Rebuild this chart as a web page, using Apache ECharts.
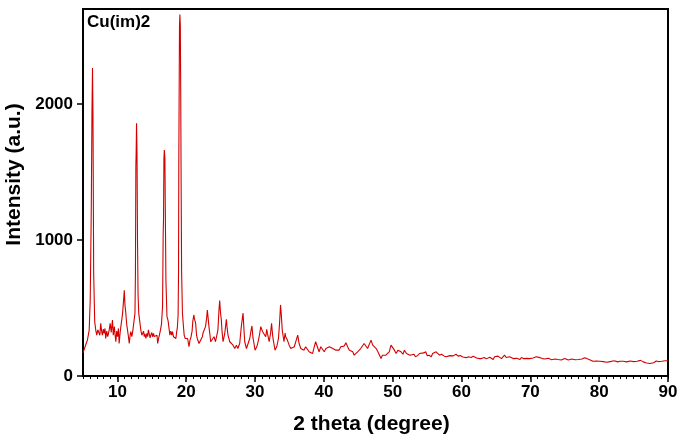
<!DOCTYPE html>
<html>
<head>
<meta charset="utf-8">
<script src="https://cdn.jsdelivr.net/npm/echarts@6/dist/echarts.min.js"></script>
<style>
html, body { margin: 0; padding: 0; background: #fff; }
#box { width: 685px; height: 439px; }
</style>
</head>
<body>
<div id="box"></div>
<script>
// values
const twoTheta = [
  5.0, 5.2, 5.4, 5.64, 5.9, 6.05, 6.2, 6.3, 6.38, 6.45, 6.55, 6.7, 6.85, 7.0, 7.15, 7.34, 7.45, 7.58, 7.7, 7.82,
  7.95, 8.07, 8.2, 8.3, 8.45, 8.6, 8.8, 8.95, 9.1, 9.28, 9.4, 9.55, 9.65, 9.77, 9.9, 10.02, 10.15, 10.25, 10.4, 10.5,
  10.65, 10.75, 10.9, 11.0, 11.1, 11.2, 11.35, 11.47, 11.6, 11.72, 11.85, 11.95, 12.1, 12.25, 12.4, 12.55, 12.62, 12.68, 12.72, 12.78,
  12.85, 12.92, 13.0, 13.1, 13.25, 13.4, 13.55, 13.65, 13.8, 13.9, 14.0, 14.14, 14.28, 14.4, 14.5, 14.62, 14.75, 14.85, 15.0, 15.1,
  15.25, 15.35, 15.5, 15.6, 15.75, 15.85, 16.0, 16.1, 16.25, 16.4, 16.56, 16.65, 16.7, 16.76, 16.82, 16.9, 16.98, 17.05, 17.2, 17.3,
  17.38, 17.5, 17.62, 17.75, 17.9, 18.0, 18.15, 18.3, 18.5, 18.62, 18.7, 18.82, 18.88, 18.92, 18.97, 19.02, 19.08, 19.14, 19.2, 19.26,
  19.33, 19.45, 19.6, 19.7, 19.85, 20.0, 20.2, 20.4, 20.55, 20.7, 20.85, 20.95, 21.1, 21.2, 21.37, 21.5, 21.6, 21.85, 22.1, 22.34,
  22.45, 22.55, 22.7, 22.8, 22.95, 23.07, 23.2, 23.3, 23.45, 23.55, 23.8, 24.04, 24.25, 24.45, 24.6, 24.75, 24.86, 24.97, 25.1, 25.2,
  25.35, 25.6, 25.83, 25.95, 26.07, 26.32, 26.55, 26.8, 27.05, 27.3, 27.5, 27.77, 28.0, 28.15, 28.26, 28.4, 28.5, 28.75, 29.0, 29.23,
  29.4, 29.55, 29.7, 29.8, 30.0, 30.25, 30.5, 30.7, 30.83, 30.97, 31.1, 31.3, 31.55, 31.7, 31.8, 32.05, 32.25, 32.4, 32.55, 32.65,
  32.9, 33.15, 33.4, 33.55, 33.7, 33.8, 33.95, 34.2, 34.37, 34.45, 34.7, 34.95, 35.2, 35.4, 35.7, 35.95, 36.2, 36.4, 36.65, 36.85,
  37.1, 37.35, 37.6, 37.85, 38.1, 38.35, 38.6, 38.8, 39.05, 39.3, 39.55, 39.8, 40.05, 40.3, 40.55, 40.8, 41.05, 41.3, 41.5, 41.75,
  42.0, 42.2, 42.45, 42.7, 42.95, 43.2, 43.45, 43.7, 43.95, 44.2, 44.4, 44.65, 44.9, 45.1, 45.35, 45.6, 45.85, 46.1, 46.35, 46.6,
  46.85, 47.1, 47.35, 47.6, 47.85, 48.05, 48.3, 48.5, 48.75, 49.0, 49.25, 49.5, 49.75, 50.0, 50.25, 50.5, 50.75, 51.0, 51.2, 51.5,
  51.7, 52.0, 52.2, 52.5, 52.7, 53.1, 53.3, 53.6, 53.9, 54.1, 54.5, 54.8, 55.0, 55.3, 55.6, 55.8, 56.0, 56.3, 56.5, 56.8,
  57.1, 57.5, 57.8, 58.0, 58.3, 58.5, 58.8, 59.0, 59.2, 59.5, 59.8, 60.0, 60.2, 60.4, 60.7, 61.0, 61.4, 61.7, 61.9, 62.2,
  62.4, 62.6, 62.9, 63.1, 63.3, 63.6, 63.8, 64.1, 64.3, 64.6, 64.8, 65.0, 65.3, 65.5, 65.8, 66.0, 66.25, 66.5, 66.7, 67.0,
  67.2, 67.5, 67.7, 68.0, 68.2, 68.5, 68.7, 69.0, 69.2, 69.5, 69.7, 69.9, 70.1, 70.4, 70.6, 70.85, 71.1, 71.4, 71.6, 71.8,
  72.1, 72.3, 72.6, 72.8, 73.1, 73.3, 73.6, 73.8, 74.0, 74.2, 74.5, 74.7, 75.0, 75.2, 75.5, 75.7, 76.0, 76.2, 76.5, 76.7,
  77.0, 77.2, 77.5, 77.6, 77.9, 78.2, 78.4, 78.7, 78.9, 79.1, 79.35, 79.6, 79.85, 80.1, 80.3, 80.6, 80.8, 81.1, 81.3, 81.6,
  81.8, 82.0, 82.3, 82.5, 82.7, 83.0, 83.2, 83.5, 83.7, 84.0, 84.2, 84.5, 84.7, 85.0, 85.2, 85.5, 85.7, 86.0, 86.1, 86.4,
  86.6, 86.9, 87.1, 87.4, 87.6, 87.9, 88.1, 88.3, 88.6, 88.8, 89.1, 89.3, 89.6, 89.8, 90.0
];
const intensity = [
  170, 178, 230, 264, 338, 560, 1213, 1920, 2266, 1920, 760, 400, 338, 301, 340, 350, 300, 387, 330, 301,
  345, 313, 350, 276, 330, 290, 338, 387, 320, 412, 300, 363, 310, 252, 330, 289, 350, 239, 320, 363,
  420, 461, 560, 630, 520, 474, 380, 338, 290, 239, 300, 326, 290, 338, 350, 461, 760, 1546, 1627, 1859,
  1627, 1000, 600, 461, 400, 338, 300, 313, 330, 289, 310, 276, 313, 290, 340, 326, 280, 301, 320, 289,
  313, 290, 300, 276, 300, 239, 280, 301, 338, 380, 511, 1048, 1151, 1600, 1662, 1600, 1100, 700, 437, 420,
  400, 350, 301, 330, 300, 326, 289, 300, 276, 330, 350, 450, 760, 1564, 2076, 2577, 2660, 2577, 2076, 1400,
  760, 461, 360, 301, 276, 264, 276, 215, 264, 289, 330, 400, 449, 420, 387, 300, 276, 239, 252, 289,
  318, 313, 330, 363, 420, 486, 498, 363, 300, 252, 264, 289, 252, 300, 338, 480, 555, 470, 412, 330,
  252, 313, 417, 350, 301, 252, 239, 227, 202, 227, 202, 239, 363, 424, 462, 330, 252, 202, 215, 276,
  330, 368, 280, 252, 190, 215, 264, 320, 363, 363, 326, 338, 289, 343, 313, 252, 313, 387, 300, 264,
  190, 215, 276, 380, 523, 460, 338, 252, 316, 289, 264, 227, 202, 215, 215, 227, 301, 239, 202, 215,
  190, 215, 202, 178, 190, 165, 215, 252, 215, 178, 215, 227, 178, 202, 215, 215, 227, 202, 215, 190,
  178, 190, 215, 215, 220, 244, 215, 190, 178, 178, 153, 165, 178, 165, 202, 215, 239, 252, 202, 215,
  264, 227, 239, 202, 178, 190, 128, 153, 153, 153, 165, 178, 227, 239, 190, 165, 190, 178, 178, 160,
  190, 165, 170, 153, 165, 160, 141, 150, 165, 160, 170, 178, 150, 153, 141, 165, 178, 178, 165, 153,
  160, 146, 141, 153, 150, 160, 148, 153, 160, 146, 150, 153, 140, 146, 135, 141, 136, 145, 141, 133,
  141, 128, 128, 140, 136, 126, 128, 138, 136, 121, 141, 135, 146, 135, 128, 138, 153, 136, 128, 141,
  141, 128, 121, 130, 128, 121, 136, 128, 121, 130, 128, 128, 136, 133, 141, 141, 130, 135, 128, 128,
  125, 121, 130, 128, 120, 116, 125, 111, 121, 111, 118, 121, 128, 128, 118, 121, 125, 116, 120, 128,
  121, 116, 125, 121, 135, 128, 121, 118, 111, 108, 104, 110, 104, 108, 111, 106, 101, 101, 111, 106,
  104, 110, 111, 106, 104, 108, 101, 108, 111, 104, 106, 110, 101, 106, 111, 108, 104, 115, 111, 104,
  101, 96, 91, 92, 104, 98, 91, 111, 106, 116, 108, 111, 112, 116, 112
];
const xTicks = [10, 20, 30, 40, 50, 60, 70, 80, 90];
const yTicks = [0, 1000, 2000];

const seriesData = twoTheta.map((t, i) => [t, intensity[i]]);
const fontFamily = 'Liberation Sans, Arial, sans-serif';
const labelFont = { color: '#000', fontWeight: 'bold', fontSize: 17, fontFamily: fontFamily };

const chart = echarts.init(document.getElementById('box'));
chart.setOption({
  animation: false,
  backgroundColor: '#fff',
  title: {
    text: 'Cu(im)2',
    left: 82,
    top: 9,
    textStyle: { color: '#000', fontWeight: 'bold', fontSize: 17, fontFamily: fontFamily }
  },
  grid: {
    left: 83,
    right: 17,
    top: 9,
    bottom: 63,
    outerBoundsMode: 'none',
    containLabel: false,
    show: true,
    borderColor: '#000',
    borderWidth: 2
  },
  xAxis: [
    {
      type: 'value',
      min: 5,
      max: 90,
      name: '2 theta (degree)',
      nameLocation: 'middle',
      nameGap: 38,
      nameTextStyle: { color: '#000', fontWeight: 'bold', fontSize: 21, fontFamily: fontFamily, padding: [0, 8, 0, 0] },
      axisLine: { lineStyle: { color: '#000', width: 2 } },
      axisTick: { length: 6, lineStyle: { color: '#000', width: 1.5 }, customValues: xTicks },
      axisLabel: Object.assign({ margin: 8, customValues: xTicks, formatter: v => String(v) }, labelFont),
      splitLine: { show: false }
    },
    {
      // minor ticks, one per degree
      type: 'value',
      position: 'bottom',
      min: 5,
      max: 90,
      interval: 1,
      axisLine: { show: false },
      axisTick: { length: 3, lineStyle: { color: '#000', width: 1 } },
      axisLabel: { show: false },
      splitLine: { show: false }
    }
  ],
  yAxis: {
    type: 'value',
    min: 0,
    max: 2700,
    name: 'Intensity (a.u.)',
    nameLocation: 'middle',
    nameGap: 52,
    nameTextStyle: { color: '#000', fontWeight: 'bold', fontSize: 21, fontFamily: fontFamily, padding: [0, 0, 0, 36] },
    axisLine: { lineStyle: { color: '#000', width: 2 } },
    axisTick: { length: 6, lineStyle: { color: '#000', width: 1.5 }, customValues: yTicks },
    axisLabel: Object.assign({ margin: 10, customValues: yTicks, formatter: v => String(v) }, labelFont),
    splitLine: { show: false }
  },
  series: [
    {
      type: 'line',
      data: seriesData,
      showSymbol: false,
      symbol: 'none',
      lineStyle: { color: '#d40000', width: 1.1 }
    }
  ]
});
</script>
</body>
</html>
